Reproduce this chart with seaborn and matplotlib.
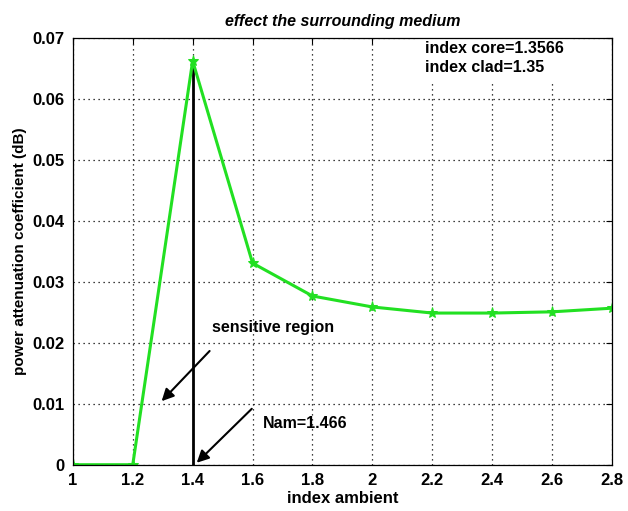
import matplotlib
matplotlib.use("Agg")
import matplotlib.pyplot as plt
import seaborn as sns
import pandas as pd

index_ambient = [1.0, 1.2, 1.4, 1.6, 1.8, 2.0, 2.2, 2.4, 2.6, 2.8]
attenuation = [0.0, 0.0, 0.0663, 0.0331, 0.0277, 0.0259, 0.0249, 0.0249, 0.0251, 0.0257]
x_ticks = [1, 1.2, 1.4, 1.6, 1.8, 2, 2.2, 2.4, 2.6, 2.8]
x_tick_labels = ["1", "1.2", "1.4", "1.6", "1.8", "2", "2.2", "2.4", "2.6", "2.8"]
y_ticks = [0, 0.01, 0.02, 0.03, 0.04, 0.05, 0.06, 0.07]
y_tick_labels = ["0", "0.01", "0.02", "0.03", "0.04", "0.05", "0.06", "0.07"]

sns.set_style("white")
plt.rcParams['font.family'] = ['Liberation Sans', 'DejaVu Sans']
plt.rcParams['text.color'] = 'black'
plt.rcParams['axes.labelcolor'] = 'black'
plt.rcParams['xtick.color'] = 'black'
plt.rcParams['ytick.color'] = 'black'

df = pd.DataFrame({"x": index_ambient, "y": attenuation})

fig = plt.figure(figsize=(6.28, 5.11), dpi=100)
ax = fig.add_axes([0.116, 0.0906, 0.8585, 0.8343])

sns.lineplot(data=df, x="x", y="y", ax=ax, color="#22e022", linewidth=2.2,
             marker="*", markersize=8, markeredgecolor="#22e022", zorder=3)

ax.set_xlim(1, 2.8)
ax.set_ylim(0, 0.07)
ax.set_xticks(x_ticks)
ax.set_xticklabels(x_tick_labels, fontweight="bold", fontsize=12)
ax.set_yticks(y_ticks)
ax.set_yticklabels(y_tick_labels, fontweight="bold", fontsize=12)
ax.tick_params(direction="in", top=True, right=True, length=4, width=0.8,
               colors="black")
ax.tick_params(axis="x", pad=6)
ax.tick_params(axis="y", pad=6)
ax.grid(True, linestyle=(0, (1, 3)), color="black", linewidth=0.9)
for s in ax.spines.values():
    s.set_visible(True)
    s.set_color("black")
    s.set_linewidth(0.9)
    s.set_zorder(5)

ax.set_xlabel("index ambient", fontweight="bold", fontsize=12, labelpad=2, color="black")
ax.set_ylabel("power attenuation coefficient (dB)", fontweight="bold", fontsize=11,
              labelpad=4, color="black")
ax.set_title("effect the surrounding medium", fontweight="bold", fontstyle="italic",
             fontsize=11.5, pad=9, color="black")

# vertical marker line at peak
ax.plot([1.4, 1.4], [0, attenuation[2]], color="black", linewidth=2, zorder=2)

# annotations
ax.text(2.175, 0.0668, "index core=1.3566\nindex clad=1.35", fontsize=11.5,
        fontweight="bold", va="center", ha="left", linespacing=1.3, color="black",
        bbox=dict(facecolor="white", edgecolor="none", pad=6), zorder=4)
ax.text(1.463, 0.0225, "sensitive region", fontsize=11.5, fontweight="bold",
        va="center", ha="left", zorder=4, color="black")
ax.text(1.634, 0.0068, "Nam=1.466", fontsize=11.5, fontweight="bold",
        va="center", ha="left", zorder=4, color="black")
ax.annotate("", xy=(1.29, 0.0101), xytext=(1.463, 0.019),
            arrowprops=dict(arrowstyle="-|>", color="black", lw=1.5, mutation_scale=18), zorder=4)
ax.annotate("", xy=(1.407, 0.0), xytext=(1.604, 0.0095),
            arrowprops=dict(arrowstyle="-|>", color="black", lw=1.5, mutation_scale=18), zorder=4)

fig.savefig("out.png", dpi=100, facecolor="white")
